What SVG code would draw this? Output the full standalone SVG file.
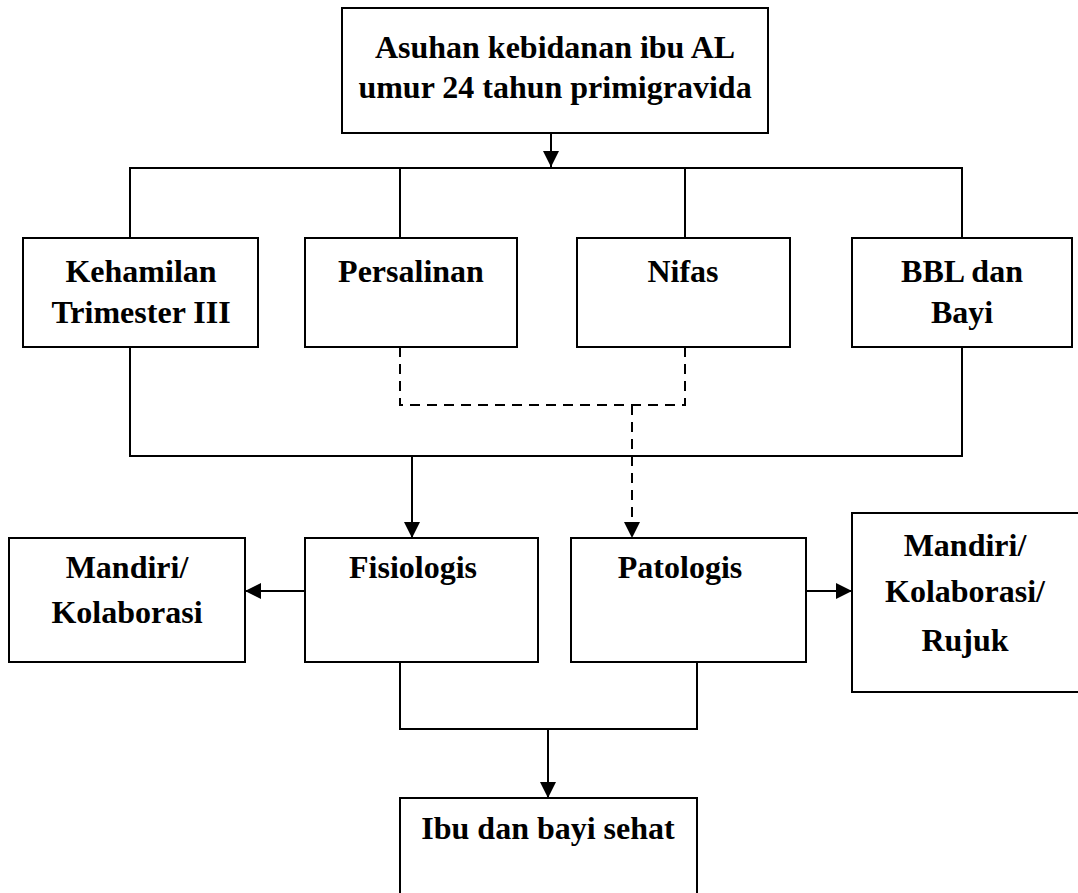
<svg xmlns="http://www.w3.org/2000/svg" width="1078" height="893" viewBox="0 0 1078 893">
<style>
.box{fill:#fff;stroke:#000;stroke-width:2}
.ln{fill:none;stroke:#000;stroke-width:2}
.dash{fill:none;stroke:#000;stroke-width:2;stroke-dasharray:10,7}
text{font-family:"Liberation Serif","Times New Roman",serif;font-weight:bold;font-size:32px;fill:#000;text-anchor:middle}
</style>
<defs>
<marker id="ah" viewBox="0 0 10 10" refX="10" refY="5" markerWidth="16" markerHeight="16" markerUnits="userSpaceOnUse" orient="auto">
<path d="M0,0 L10,5 L0,10 z" fill="#000"/>
</marker>
</defs>
<rect width="1078" height="893" fill="#fff"/>
<g id="connectors">
<line class="ln" x1="551" y1="133" x2="551" y2="167" marker-end="url(#ah)"/>
<polyline class="ln" points="130,238 130,168 962,168 962,238"/>
<line class="ln" x1="400" y1="168" x2="400" y2="238"/>
<line class="ln" x1="685" y1="168" x2="685" y2="238"/>
<polyline class="ln" points="130,347 130,456 962,456 962,347"/>
<polyline class="dash" points="400,347 400,405 685,405 685,347"/>
<line class="ln" x1="412" y1="456" x2="412" y2="538" marker-end="url(#ah)"/>
<line class="dash" x1="632" y1="405" x2="632" y2="538" marker-end="url(#ah)"/>
<line class="ln" x1="305" y1="591" x2="245" y2="591" marker-end="url(#ah)"/>
<line class="ln" x1="806" y1="591" x2="852" y2="591" marker-end="url(#ah)"/>
<polyline class="ln" points="400,662 400,729 697,729 697,662"/>
<line class="ln" x1="548" y1="729" x2="548" y2="798" marker-end="url(#ah)"/>
</g>
<g id="n-top">
<rect class="box" x="342" y="8" width="426" height="125"/>
<text x="555" y="58">Asuhan kebidanan ibu AL</text>
<text x="555" y="98">umur 24 tahun primigravida</text>
</g>
<g id="n-kehamilan">
<rect class="box" x="23" y="238" width="235" height="109"/>
<text x="141" y="282">Kehamilan</text>
<text x="141" y="323">Trimester III</text>
</g>
<g id="n-persalinan">
<rect class="box" x="305" y="238" width="212" height="109"/>
<text x="411" y="282">Persalinan</text>
</g>
<g id="n-nifas">
<rect class="box" x="577" y="238" width="213" height="109"/>
<text x="683" y="282">Nifas</text>
</g>
<g id="n-bbl">
<rect class="box" x="852" y="238" width="220" height="109"/>
<text x="962" y="282">BBL dan</text>
<text x="962" y="323">Bayi</text>
</g>
<g id="n-mandiri1">
<rect class="box" x="9" y="538" width="236" height="124"/>
<text x="127" y="578">Mandiri/</text>
<text x="127" y="623">Kolaborasi</text>
</g>
<g id="n-fisiologis">
<rect class="box" x="305" y="538" width="233" height="124"/>
<text x="413" y="578">Fisiologis</text>
</g>
<g id="n-patologis">
<rect class="box" x="571" y="538" width="235" height="124"/>
<text x="680" y="578">Patologis</text>
</g>
<g id="n-mandiri2">
<rect class="box" x="852" y="513" width="230" height="179"/>
<text x="965" y="556">Mandiri/</text>
<text x="965" y="602">Kolaborasi/</text>
<text x="965" y="651">Rujuk</text>
</g>
<g id="n-sehat">
<rect class="box" x="400" y="798" width="297" height="110"/>
<text x="548" y="839">Ibu dan bayi sehat</text>
</g>
</svg>
